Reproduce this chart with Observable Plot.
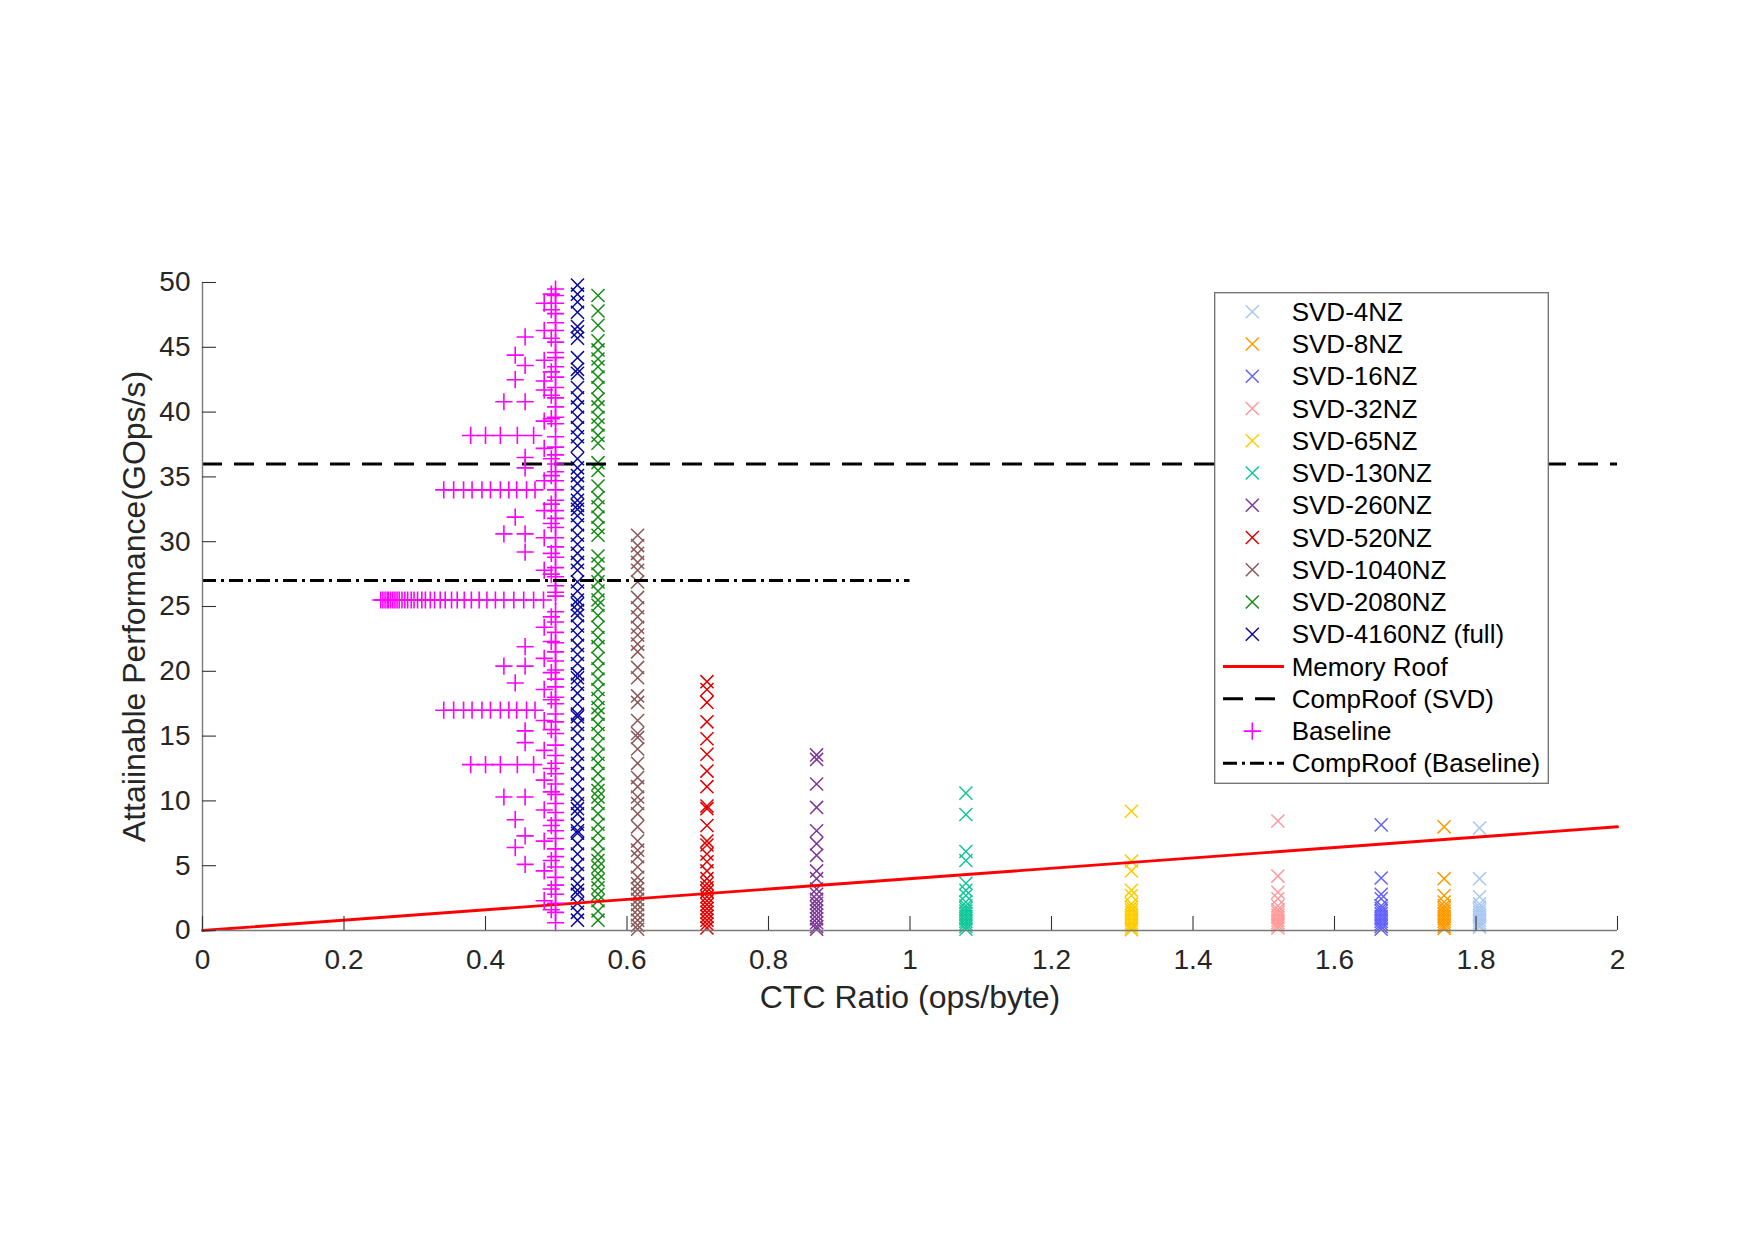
<!DOCTYPE html>
<html>
<head>
<meta charset="utf-8">
<script src="https://cdn.jsdelivr.net/npm/d3@7"></script>
<script src="https://cdn.jsdelivr.net/npm/@observablehq/plot@0.6"></script>
<style>
  html, body { margin: 0; padding: 0; background: #fff; }
  #chart { position: relative; width: 1755px; height: 1240px; }
  #legend { position: absolute; left: 1214px; top: 292px; }
</style>
</head>
<body>
<div id="chart"></div>
<script>
// ---- series definitions -------------------------------------------------
const seriesNames = ["SVD-4NZ", "SVD-8NZ", "SVD-16NZ", "SVD-32NZ", "SVD-65NZ", "SVD-130NZ",
  "SVD-260NZ", "SVD-520NZ", "SVD-1040NZ", "SVD-2080NZ", "SVD-4160NZ (full)"];
const seriesColors = ["#a9c8f0", "#ff9a00", "#6262ff", "#ff9a9a", "#ffcc00", "#10c89a",
  "#7d3798", "#e00000", "#8b5959", "#168c16", "#0a0a9e"];
// CTC ratio (ops/byte) of each SVD variant
const seriesCtc = [1.805, 1.755, 1.666, 1.52, 1.313, 1.079, 0.868, 0.713, 0.615, 0.559, 0.53];

// attainable performance (GOps/s) measured for each SVD variant
const perfSvd4 = [7.9, 4.0, 2.6, 2.05, 1.8, 1.6, 1.4, 1.2, 1.0, 0.8, 0.6, 0.4, 0.25];
const perfSvd8 = [8.0, 4.0, 2.7, 2.2, 1.9, 1.7, 1.5, 1.3, 1.1, 0.9, 0.7, 0.5, 0.3, 0.15];
const perfSvd16 = [8.15, 4.05, 2.8, 2.45, 1.9, 1.7, 1.5, 1.3, 1.1, 0.9, 0.7, 0.5, 0.3, 0.1];
const perfSvd32 = [8.45, 4.2, 2.95, 2.45, 1.9, 1.6, 1.4, 1.2, 1.0, 0.8, 0.6, 0.4, 0.2];
const perfSvd65 = [9.2, 5.35, 4.6, 3.1, 2.7, 2.05, 1.8, 1.6, 1.4, 1.2, 1.0, 0.8, 0.6, 0.4, 0.2, 0.05];
const perfSvd130 = [10.6, 8.95, 6.1, 5.4, 3.65, 3.1, 2.7, 2.2, 1.9, 1.7, 1.5, 1.3, 1.1, 0.9, 0.7, 0.5, 0.3, 0.1];
const perfSvd260 = [13.55, 13.2, 11.3, 9.5, 7.7, 6.7, 5.8, 4.6, 4.0, 3.2, 2.8, 2.4, 2.1, 1.8, 1.5, 1.2, 0.9, 0.6, 0.3, 0.1];
const perfSvd520 = [19.2, 18.6, 17.6, 16.1, 14.8, 13.6, 12.3, 11.1, 9.6, 9.4, 8.1, 6.9, 6.6, 5.9, 5.3,
  4.6, 4.0, 3.6, 3.3, 3.0, 2.6, 2.3, 2.0, 1.7, 1.4, 1.1, 0.8, 0.5, 0.2];
const perfSvd1040 = [30.5, 29.7, 29.1, 28.4, 27.8, 26.9, 25.7, 24.9, 24.2, 23.4, 22.8, 22.1, 21.5, 20.3,
  19.5, 18.1, 17.6, 16.2, 15.2, 14.9, 14.0, 12.9, 11.8, 11.1, 10.3, 9.8, 9.0, 8.0, 6.9, 6.2, 5.7,
  4.9, 4.1, 3.6, 3.2, 2.8, 2.4, 2.0, 1.6, 1.2, 0.8, 0.4, 0.1];
const perfSvd2080 = [49.0, 47.8, 46.7, 45.5, 44.8, 44.1, 43.5, 42.7, 41.9, 41.0, 40.4, 39.6, 39.0, 38.2,
  37.6, 36.1, 35.5, 34.3, 33.4, 32.7, 31.9, 31.1, 30.5, 28.9, 28.3, 27.5, 26.9, 26.2, 25.5, 25.1,
  24.3, 23.4, 22.6, 21.9, 21.0, 20.2, 19.4, 18.6, 17.9, 17.2, 16.7, 15.9, 15.2, 14.4, 13.6, 12.9,
  12.1, 11.3, 10.8, 10.3, 9.8, 9.0, 8.2, 7.5, 6.7, 5.9, 5.4, 4.9, 4.4, 3.9, 3.3, 2.8, 2.3, 1.5, 0.8];
const perfSvd4160 = [49.8, 49.1, 48.5, 47.7, 46.6, 46.2, 45.7, 44.2, 43.3, 43.0, 41.9, 41.1, 40.4, 39.6,
  38.8, 38.1, 37.4, 36.4, 35.7, 35.1, 34.5, 33.8, 33.2, 32.8, 32.5, 32.0, 31.3, 30.5, 29.8, 29.1,
  28.4, 27.8, 26.9, 26.2, 25.5, 25.2, 24.7, 24.3, 23.5, 22.8, 22.0, 21.3, 20.6, 19.8, 19.5, 19.0,
  18.3, 17.5, 16.7, 16.5, 15.9, 15.2, 14.4, 13.6, 12.9, 12.1, 11.3, 10.5, 9.8, 9.4, 9.0, 8.2, 7.7,
  7.5, 6.7, 5.9, 5.1, 4.4, 3.6, 3.1, 2.8, 2.1, 1.4, 0.8];
const seriesPerf = [perfSvd4, perfSvd8, perfSvd16, perfSvd32, perfSvd65, perfSvd130,
  perfSvd260, perfSvd520, perfSvd1040, perfSvd2080, perfSvd4160];

// ---- baseline measurements ---------------------------------------------
const baselineMainCtc = 0.499;
const baselineMainPerf = [49.5, 49.0, 48.4, 47.6, 46.9, 46.3, 45.4, 44.6, 44.2, 43.5, 42.7, 41.9, 41.1,
  40.4, 39.6, 39.1, 38.1, 37.3, 36.7, 36.0, 35.4, 34.7, 34.0, 33.2, 32.4, 31.8, 31.1, 30.3, 29.6,
  28.8, 28.0, 27.3, 26.6, 25.8, 26.1, 24.6, 23.8, 23.0, 22.2, 21.5, 20.8, 20.1, 19.4, 18.8, 18.0,
  17.5, 16.7, 16.1, 15.2, 14.3, 13.5, 12.9, 12.1, 11.3, 10.5, 9.8, 9.1, 8.5, 7.7, 7.1, 6.3, 5.7,
  4.9, 4.1, 3.5, 2.8, 2.1, 1.4, 0.6];
const baselineNearCtc = 0.493;
const baselineNearPerf = [49.1, 47.9, 45.7, 43.1, 41.3, 39.5, 36.4, 35.1, 32.9, 31.4, 29.1, 27.5,
  24.2, 22.3, 19.9, 17.8, 15.5, 12.5, 10.7, 8.1, 5.4, 3.2, 1.6];
const baselineSubCtc = 0.483;
const baselineSubPerf = [48.4, 46.3, 44.0, 42.4, 41.7, 39.3, 37.2, 34.7, 32.4, 30.3, 27.8, 23.4,
  21.0, 18.6, 16.2, 13.9, 11.6, 9.3, 6.9, 4.6, 2.3];
// isolated baseline points: [ctc, perf]
const baselineScatter = [[0.456, 45.8], [0.442, 44.4], [0.456, 43.6], [0.442, 42.5], [0.426, 40.8],
  [0.456, 40.8], [0.456, 36.5], [0.456, 35.7], [0.442, 31.9], [0.426, 30.6], [0.456, 30.6],
  [0.456, 29.2], [0.456, 21.9], [0.426, 20.4], [0.456, 20.4], [0.442, 19.1], [0.456, 15.4],
  [0.456, 14.5], [0.426, 10.3], [0.456, 10.3], [0.442, 8.55], [0.456, 7.3], [0.442, 6.4], [0.456, 5.1]];
// horizontal runs of baseline points sharing one performance level
const baselineRunShortPerf = [38.2, 12.8];
const baselineRunShortCtc = [0.379, 0.400, 0.421, 0.445, 0.468];
const baselineRunMidPerf = [34.0, 17.0];
const baselineRunMidCtc = [0.341, 0.355, 0.369, 0.381, 0.395, 0.407, 0.421, 0.433, 0.444, 0.458, 0.470];
const baselineRunLongPerf = [25.5];
const baselineRunLongCtc = [0.252, 0.255, 0.258, 0.261, 0.263, 0.266, 0.269, 0.272, 0.275, 0.278,
  0.282, 0.286, 0.290, 0.295, 0.299, 0.304, 0.310, 0.315, 0.322, 0.328, 0.336, 0.343, 0.352, 0.360,
  0.370, 0.380, 0.391, 0.402, 0.414, 0.426, 0.440, 0.454, 0.468, 0.482];

// ---- roofs --------------------------------------------------------------
const memoryRoofCtc = [0, 2];
const memoryRoofPerf = [0, 8];
const compRoofSvdPerf = 36;
const compRoofSvdCtc = [0, 2];
const compRoofBaselinePerf = 27;
const compRoofBaselineCtc = [0, 1];

// ---- axes ----------------------------------------------------------------
const xTicks = [0, 0.2, 0.4, 0.6, 0.8, 1, 1.2, 1.4, 1.6, 1.8, 2];
const yTicks = [0, 5, 10, 15, 20, 25, 30, 35, 40, 45, 50];
const xLabel = "CTC Ratio (ops/byte)";
const yLabel = "Attaiinable Performance(GOps/s)";

// ---- tables built for the marks ----------------------------------------
const svdPoints = seriesNames.flatMap((name, i) =>
  seriesPerf[i].map(p => ({series: name, ctc: seriesCtc[i], perf: p})));

const baselinePoints = [
  ...baselineMainPerf.map(p => ({ctc: baselineMainCtc, perf: p})),
  ...baselineNearPerf.map(p => ({ctc: baselineNearCtc, perf: p})),
  ...baselineSubPerf.map(p => ({ctc: baselineSubCtc, perf: p})),
  ...baselineScatter.map(([c, p]) => ({ctc: c, perf: p})),
  ...baselineRunShortPerf.flatMap(p => baselineRunShortCtc.map(c => ({ctc: c, perf: p}))),
  ...baselineRunMidPerf.flatMap(p => baselineRunMidCtc.map(c => ({ctc: c, perf: p}))),
  ...baselineRunLongPerf.flatMap(p => baselineRunLongCtc.map(c => ({ctc: c, perf: p})))
];

const memoryRoof = memoryRoofCtc.map((c, i) => ({ctc: c, perf: memoryRoofPerf[i]}));

const W = 1755, H = 1240;
const mL = 202, mR = 138, mT = 282, mB = 310;
const plotW = W - mL - mR, plotH = H - mT - mB;
const tickLen = 14;
const fontStack = "'Liberation Sans', Arial, Helvetica, sans-serif";
const timesR = 6.0, plusR = 5.6;

const chart = Plot.plot({
  width: W, height: H,
  marginLeft: mL, marginRight: mR, marginTop: mT, marginBottom: mB,
  x: {domain: [0, 2]},
  y: {domain: [0, 50]},
  color: {domain: seriesNames, range: seriesColors},
  style: {fontFamily: fontStack, fontSize: "28px", color: "#262626", background: "#fff", overflow: "visible"},
  marks: [
    // SVD variants
    Plot.dot(svdPoints, {x: "ctc", y: "perf", stroke: "series", symbol: "times", r: timesR, strokeWidth: 1.5}),
    // memory roof
    Plot.line(memoryRoof, {x: "ctc", y: "perf", stroke: "#ff0000", strokeWidth: 2.9}),
    // compute roof for the SVD kernels
    Plot.ruleY([compRoofSvdPerf], {y: d => d, x1: compRoofSvdCtc[0], x2: compRoofSvdCtc[1],
      stroke: "#000", strokeWidth: 3, strokeDasharray: "20,12"}),
    // baseline measurements
    Plot.dot(baselinePoints, {x: "ctc", y: "perf", stroke: "#ff00ff", symbol: "plus", r: plusR, strokeWidth: 1.6}),
    // compute roof for the baseline
    Plot.ruleY([compRoofBaselinePerf], {y: d => d, x1: compRoofBaselineCtc[0], x2: compRoofBaselineCtc[1],
      stroke: "#000", strokeWidth: 3, strokeDasharray: "14,5,3,5"}),
    // axis lines (left and bottom only)
    Plot.ruleX([0], {stroke: "#7a7a7a", strokeWidth: 1.4}),
    Plot.ruleY([0], {stroke: "#7a7a7a", strokeWidth: 1.4}),
    // inward-pointing ticks
    Plot.tickX(xTicks, {x: d => d, insetTop: plotH - tickLen, stroke: "#333", strokeWidth: 1.1}),
    Plot.tickY(yTicks, {y: d => d, insetRight: plotW - tickLen, stroke: "#333", strokeWidth: 1.1}),
    // tick labels
    Plot.axisX(xTicks, {tickSize: 0, tickPadding: 19, label: null, fontSize: 28,
      tickFormat: d => String(+d.toFixed(1))}),
    Plot.axisY(yTicks, {tickSize: 0, tickPadding: 12, label: null, fontSize: 28}),
    // axis titles
    Plot.text([xLabel], {text: d => d, frameAnchor: "bottom", lineAnchor: "middle", textAnchor: "middle",
      dy: 67, fontSize: 32, fill: "#262626"}),
    Plot.text([yLabel], {text: d => d, frameAnchor: "left", lineAnchor: "middle", textAnchor: "middle",
      dx: -68, rotate: -90, fontSize: 32, fill: "#262626"})
  ]
});
document.getElementById("chart").appendChild(chart);

// ---- legend ----------------------------------------------------------------
const legendEntries = [
  ...seriesNames.map((name, i) => ({label: name, kind: "times", color: seriesColors[i]})),
  {label: "Memory Roof", kind: "line", color: "#ff0000", width: 2.9},
  {label: "CompRoof (SVD)", kind: "line", color: "#000", width: 3, dash: "20,12"},
  {label: "Baseline", kind: "plus", color: "#ff00ff"},
  {label: "CompRoof (Baseline)", kind: "line", color: "#000", width: 3, dash: "14,5,3,5"}
];
const legW = 335, legH = 492, rowTop = 19.7, rowStep = 32.26;
const legend = d3.select("#chart").append("svg")
  .attr("id", "legend")
  .attr("width", legW).attr("height", legH)
  .style("font-family", fontStack);
legend.append("rect")
  .attr("x", 0.7).attr("y", 0.7).attr("width", legW - 1.4).attr("height", legH - 1.4)
  .attr("fill", "#fff").attr("stroke", "#6e6e6e").attr("stroke-width", 1.3);
const rows = legend.selectAll("g.row").data(legendEntries).join("g")
  .attr("class", "row")
  .attr("transform", (d, i) => `translate(0,${rowTop + i * rowStep})`);
rows.filter(d => d.kind === "line").append("line")
  .attr("x1", 9).attr("x2", 70).attr("y1", 0).attr("y2", 0)
  .attr("stroke", d => d.color).attr("stroke-width", d => d.width)
  .attr("stroke-dasharray", d => d.dash || null);
rows.filter(d => d.kind !== "line").append("path")
  .attr("transform", "translate(38.3,0)")
  .attr("d", d => d3.symbol(d.kind === "times" ? d3.symbolTimes : d3.symbolPlus,
    Math.PI * (d.kind === "times" ? timesR : plusR) ** 2)())
  .attr("fill", "none").attr("stroke", d => d.color)
  .attr("stroke-width", d => d.kind === "times" ? 1.5 : 1.6);
rows.append("text")
  .attr("x", 77.7).attr("y", 0).attr("dy", "0.35em")
  .attr("font-size", 26).attr("fill", "#000")
  .text(d => d.label);
</script>
</body>
</html>
